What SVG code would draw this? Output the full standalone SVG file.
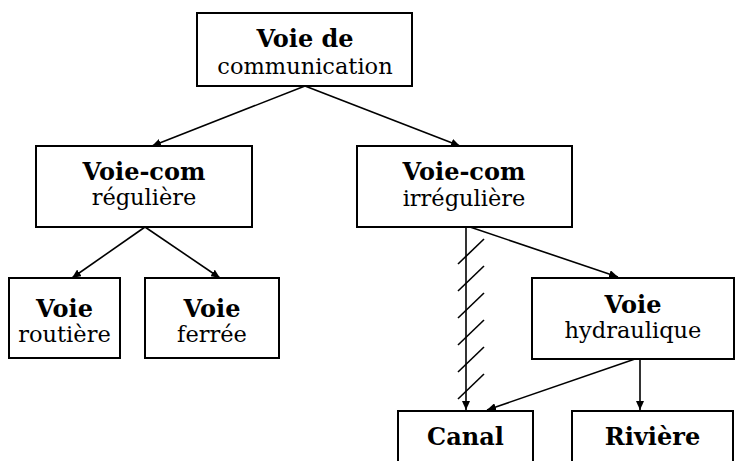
<svg xmlns="http://www.w3.org/2000/svg" width="736" height="461" viewBox="0 0 736 461">
<style>
.box{fill:#fff;stroke:#000;stroke-width:2}
.b{font-family:"DejaVu Serif","Liberation Serif",serif;font-weight:bold;font-size:24px;text-anchor:middle;fill:#000}
.r{font-family:"DejaVu Serif","Liberation Serif",serif;font-size:22.5px;text-anchor:middle;fill:#000}
.ln{stroke:#000;stroke-width:1.6;fill:none}
</style>
<defs>
<marker id="ah" markerUnits="userSpaceOnUse" markerWidth="10" markerHeight="8" refX="9" refY="4" orient="auto">
<path d="M0,0 L9,4 L0,8 Z" fill="#000"/>
</marker>
</defs>
<rect width="736" height="461" fill="#fff"/>
<g id="connectors">
<line class="ln" x1="305" y1="86" x2="152" y2="146" marker-end="url(#ah)"/>
<line class="ln" x1="305" y1="86" x2="460" y2="146" marker-end="url(#ah)"/>
<line class="ln" x1="145" y1="227" x2="72" y2="278" marker-end="url(#ah)"/>
<line class="ln" x1="145" y1="227" x2="220" y2="278" marker-end="url(#ah)"/>
<line class="ln" x1="466" y1="227" x2="466" y2="410" stroke-width="2.2" marker-end="url(#ah)"/>
<g class="ln">
<line x1="458" y1="264" x2="484" y2="239"/>
<line x1="458" y1="291" x2="484" y2="266"/>
<line x1="458" y1="318" x2="484" y2="293"/>
<line x1="458" y1="345" x2="484" y2="320"/>
<line x1="458" y1="372" x2="484" y2="347"/>
<line x1="458" y1="399" x2="484" y2="374"/>
</g>
<line class="ln" x1="470" y1="227" x2="618" y2="277" marker-end="url(#ah)"/>
<line class="ln" x1="635" y1="359" x2="487" y2="410" marker-end="url(#ah)"/>
<line class="ln" x1="640" y1="359" x2="640" y2="410" marker-end="url(#ah)"/>
</g>
<g id="voie-communication">
<rect class="box" x="197" y="13" width="215" height="73"/>
<text class="b" x="305" y="47">Voie de</text>
<text class="r" x="305" y="74">communication</text>
</g>
<g id="voie-com-reguliere">
<rect class="box" x="36" y="146" width="216" height="81"/>
<text class="b" x="144" y="180">Voie-com</text>
<text class="r" x="144" y="205">régulière</text>
</g>
<g id="voie-com-irreguliere">
<rect class="box" x="357" y="146" width="215" height="81"/>
<text class="b" x="464" y="180">Voie-com</text>
<text class="r" x="464" y="206">irrégulière</text>
</g>
<g id="voie-routiere">
<rect class="box" x="9" y="278" width="111" height="80"/>
<text class="b" x="64.500" y="317">Voie</text>
<text class="r" x="64.500" y="342">routière</text>
</g>
<g id="voie-ferree">
<rect class="box" x="145" y="278" width="134" height="80"/>
<text class="b" x="212" y="317">Voie</text>
<text class="r" x="212" y="342">ferrée</text>
</g>
<g id="voie-hydraulique">
<rect class="box" x="532" y="278" width="202" height="81"/>
<text class="b" x="633" y="313">Voie</text>
<text class="r" x="633" y="338">hydraulique</text>
</g>
<g id="canal">
<rect class="box" x="398" y="411" width="135" height="60"/>
<text class="b" x="465.500" y="445">Canal</text>
</g>
<g id="riviere">
<rect class="box" x="572" y="411" width="161" height="60"/>
<text class="b" x="652.500" y="445">Rivière</text>
</g>
</svg>
